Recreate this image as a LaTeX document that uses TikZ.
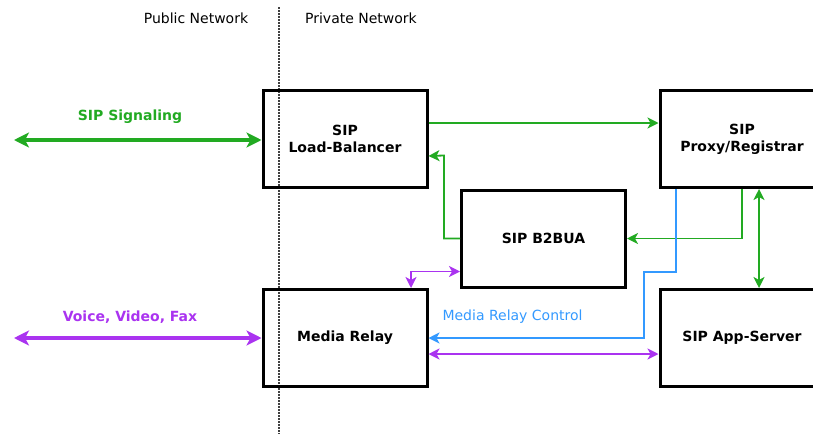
\documentclass[tikz,border=0pt]{standalone}
\usepackage{fontspec}
\setmainfont{DejaVu Sans}
\usetikzlibrary{arrows.meta,calc}
\definecolor{sipgreen}{HTML}{22AA22}
\definecolor{mediapurple}{HTML}{AA33F0}
\definecolor{ctrlblue}{HTML}{3399FF}
\tikzset{
  box/.style={draw, line width=3pt, minimum width=164pt, minimum height=97pt, inner sep=0pt,
    align=center, font=\bfseries\fontsize{14}{17}\selectfont},
  thickarrow/.style={line width=3.5pt, {Stealth[length=15pt,width=15pt,inset=4pt]}-{Stealth[length=15pt,width=15pt,inset=4pt]}},
  thinhead/.style={-{Stealth[length=11pt,width=11pt,inset=3pt]}},
  thinboth/.style={{Stealth[length=11pt,width=11pt,inset=3pt]}-{Stealth[length=11pt,width=11pt,inset=3pt]}},
  thin/.style={line width=1.8pt},
  lbl/.style={font=\fontsize{14}{17}\selectfont},
  blbl/.style={font=\bfseries\fontsize{14}{17}\selectfont},
  sep/.style={line width=1.2pt, dash pattern=on 1.5pt off 1.5pt, black!75}
}
\begin{document}
\begin{tikzpicture}[x=1pt,y=-1pt]
\useasboundingbox (0,0) rectangle (813,434);
\clip (0,0) rectangle (813,434);

% network labels and separator
\node[lbl] (pub) at (196,18) {Public Network};
\node[lbl] (priv) at (361,18) {Private Network};
\coordinate (septop) at (279,7);
\coordinate (sepbot) at (279,434);
\draw[sep] (septop) -- (sepbot);

% boxes
\node[box] (LB) at (345,139) {SIP\\Load-Balancer};
\node[box] (PX) at (742,139) {SIP\\Proxy/Registrar};
\node[box] (B2) at (543.5,238.5) {SIP B2BUA};
\node[box] (MR) at (345,338) {Media Relay};
\node[box] (AS) at (742,338) {SIP App-Server};

% external signaling
\coordinate (sigL) at (14,140);
\draw[thickarrow, sipgreen] (sigL) -- (sigL -| LB.west);
\node[blbl, text=sipgreen] (siglbl) at (130,117) {SIP Signaling};

% external media
\coordinate (medL) at (14,338);
\draw[thickarrow, mediapurple] (medL) -- (MR.west);
\node[blbl, text=mediapurple] (medlbl) at (130,317) {Voice, Video, Fax};

% LB -> Proxy
\draw[thin, thinhead, sipgreen] ($(LB.east)+(0,-16)$) -- ($(PX.west)+(0,-16)$);
% B2BUA -> LB
\draw[thin, thinhead, sipgreen] (B2.west) -| ($(B2.west)+(-16,-83)$) -- ($(LB.east)+(0,17)$);
% Proxy -> B2BUA
\draw[thin, thinhead, sipgreen] (PX.south) |- (B2.east);
% Proxy <-> App-Server
\draw[thin, thinboth, sipgreen] ($(PX.south)+(17,0)$) -- ($(AS.north)+(17,0)$);

% Media relay control
\draw[thin, thinhead, ctrlblue] ($(PX.south)+(-66,0)$) -- ($(PX.south)+(-66,83)$)
  -- ($(PX.south)+(-98,83)$) |- (MR.east);
\node[lbl, text=ctrlblue, anchor=west] (ctrllbl) at (439,317) {Media Relay Control};

% Media relay <-> App-server
\draw[thin, thinboth, mediapurple] ($(MR.east)+(0,16)$) -- ($(AS.west)+(0,16)$);
% Media relay <-> B2BUA
\draw[thin, thinboth, mediapurple] ($(MR.north)+(66,0)$) |- ($(B2.west)+(0,33)$);
\end{tikzpicture}
\end{document}
